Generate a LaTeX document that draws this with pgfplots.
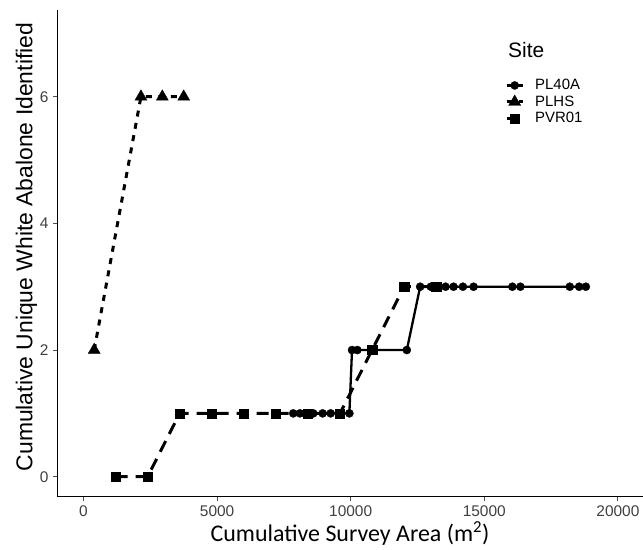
\documentclass[border=0pt]{standalone}
\usepackage{pgfplots}
\pgfplotsset{compat=1.18}
\usepackage{fontspec}
\setmainfont{Liberation Sans}
\newfontfamily\calibri{Carlito}

\pgfplotstableread{
x y
7850 1
8100 1
8300 1
8450 1
8600 1
8950 1
9250 1
9950 1
10050 2
10250 2
12100 2
12600 3
13000 3
13250 3
13550 3
13850 3
14200 3
14600 3
16050 3
16350 3
18200 3
18550 3
18800 3
}\plA

\pgfplotstableread{
x y
400 2
2150 6
2950 6
3750 6
}\plhs

\pgfplotstableread{
x y
1200 0
2400 0
3600 1
4800 1
6000 1
7200 1
8400 1
9600 1
10800 2
12000 3
13200 3
}\pvr

\begin{document}
\begin{tikzpicture}
\path[use as bounding box] (0,0) rectangle (643bp,550bp);
\begin{axis}[
  at={(57bp,53.3bp)}, anchor=south west,
  scale only axis, width=586bp, height=486.7bp,
  xmin=-992, xmax=20940, ymin=-0.316, ymax=7.37,
  axis lines*=left,
  axis line style={line width=0.9bp, black},
  xtick={0,5000,10000,15000,20000}, ytick={0,2,4,6},
  tick align=outside, major tick length=4bp,
  tick style={line width=0.9bp, black!70},
  scaled x ticks=false,
  /pgf/number format/1000 sep={},
  /pgf/number format/assume math mode=true,
  ticklabel style={font=\fontsize{15.5}{18}\selectfont, color=black!75},
  xticklabel style={yshift=-1bp},
  yticklabel style={xshift=-1bp},
  xlabel={Cumulative Survey Area (m\textsuperscript{2})},
  xlabel style={font=\calibri\fontsize{24}{28}\selectfont, at={(axis description cs:0.5,0)}, anchor=base, yshift=-45bp},
  ylabel={Cumulative Unique White Abalone Identified},
  ylabel style={font=\fontsize{23}{27}\selectfont, at={(axis description cs:-0.042,0.513)}, anchor=base},
  legend style={at={(rel axis cs:0.7645,0.8597)}, anchor=north west, draw=none, fill=none,
    font=\fontsize{15}{17}\selectfont, inner sep=0pt, row sep=2.5bp, column sep=10bp,
    nodes={inner sep=1bp}},
  legend cell align=left,
  legend image code/.code={\draw[mark repeat=2,mark phase=2,#1] plot coordinates {(0bp,0bp) (8bp,0bp) (16bp,0bp)};},
  clip=false,
]
\addplot[black, line width=2.3bp, mark=*, mark size=4.1bp, mark options={solid, line width=0.3bp}] table {\plA};
\addlegendentry{PL40A}
\addplot[black, line width=3bp, dash pattern=on 6bp off 6.5bp, mark=triangle*, mark size=7bp, mark options={solid, line width=0.3bp}] table {\plhs};
\addlegendentry{PLHS}
\addplot[black, line width=3bp, dash pattern=on 12bp off 8bp, mark=square*, mark size=4.6bp, mark options={solid, line width=0.3bp}] table {\pvr};
\addlegendentry{PVR01}
\node[anchor=base west, font=\fontsize{21}{25}\selectfont, inner sep=0pt] at (rel axis cs:0.7696,0.9034) {Site};
\end{axis}
\end{tikzpicture}
\end{document}
